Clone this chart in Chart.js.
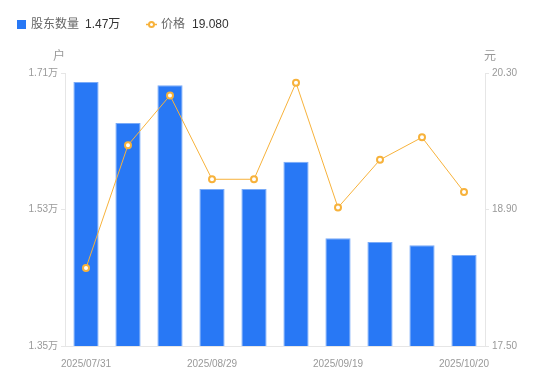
<!DOCTYPE html>
<html>
<head>
<meta charset="utf-8">
<script src="https://cdn.jsdelivr.net/npm/chart.js@4/dist/chart.umd.min.js"></script>
<style>
  html, body { margin: 0; padding: 0; background: #fff; }
  #wrap { width: 550px; height: 381px; position: relative; }
</style>
</head>
<body>
<div id="wrap"><canvas id="chart"></canvas></div>
<script>
// 日期（只显示部分刻度）
const dates = ['2025/07/31', '2025/08/10', '2025/08/20', '2025/08/29', '2025/09/05',
               '2025/09/10', '2025/09/19', '2025/09/30', '2025/10/10', '2025/10/20'];
// 股东数量（万户）
const holders = [1.698, 1.644, 1.694, 1.557, 1.557, 1.593, 1.492, 1.487, 1.483, 1.470];
// 价格（元）
const prices = [18.30, 19.56, 20.07, 19.21, 19.21, 20.20, 18.92, 19.41, 19.64, 19.08];

const holderTicks = [1.35, 1.53, 1.71];
const priceTicks = [17.50, 18.90, 20.30];

const BLUE = '#2878f5';
const ORANGE = '#f7b23b';
const FONT = '"Liberation Sans", "Noto Sans CJK SC", sans-serif';

// 图例和坐标轴单位
const extras = {
  id: 'extras',
  afterDraw(chart) {
    const ctx = chart.ctx;
    const area = chart.chartArea;
    ctx.save();
    ctx.textBaseline = 'middle';
    ctx.font = '12px ' + FONT;

    // 图例
    ctx.fillStyle = BLUE;
    ctx.fillRect(17, 20, 9, 9);
    ctx.fillStyle = '#666';
    ctx.fillText('股东数量', 31, 25);
    ctx.fillStyle = '#333';
    ctx.fillText(holders[holders.length - 1].toFixed(2) + '万', 85, 25);

    ctx.strokeStyle = ORANGE;
    ctx.lineWidth = 1.5;
    ctx.beginPath();
    ctx.moveTo(146, 24.5);
    ctx.lineTo(157, 24.5);
    ctx.stroke();
    ctx.fillStyle = '#fff';
    ctx.lineWidth = 2;
    ctx.beginPath();
    ctx.arc(151.5, 24.5, 2.5, 0, Math.PI * 2);
    ctx.fill();
    ctx.stroke();
    ctx.fillStyle = '#666';
    ctx.fillText('价格', 161, 25);
    ctx.fillStyle = '#333';
    ctx.fillText(prices[prices.length - 1].toFixed(3), 192, 25);

    // 单位
    ctx.fillStyle = '#999';
    ctx.textAlign = 'center';
    ctx.fillText('户', area.left - 6, 57);
    ctx.fillText('元', area.right + 5, 57);
    ctx.restore();
  }
};

new Chart(document.getElementById('chart'), {
  type: 'bar',
  data: {
    labels: dates,
    datasets: [
      {
        type: 'line',
        label: '价格',
        data: prices,
        yAxisID: 'y1',
        borderColor: ORANGE,
        borderWidth: 1,
        backgroundColor: '#fff',
        pointBorderColor: ORANGE,
        pointBackgroundColor: '#fff',
        pointBorderWidth: 2,
        pointRadius: 3,
        tension: 0,
        order: 0
      },
      {
        label: '股东数量',
        data: holders,
        yAxisID: 'y',
        backgroundColor: BLUE,
        borderColor: '#7aabf8',
        borderWidth: 1,
        categoryPercentage: 0.6,
        barPercentage: 1,
        order: 1
      }
    ]
  },
  options: {
    responsive: true,
    maintainAspectRatio: false,
    animation: false,
    layout: { padding: { top: 73, bottom: 0, left: 0, right: 0 } },
    plugins: {
      legend: { display: false },
      tooltip: { enabled: false }
    },
    scales: {
      x: {
        grid: { display: false },
        border: { color: '#e6e6e6' },
        ticks: {
          autoSkip: false,
          maxRotation: 0,
          color: '#999',
          font: { size: 10, family: FONT },
          padding: 4,
          callback: function(v, i) { return i % 3 === 0 ? dates[i] : ''; }
        },
        afterFit: function(s) { s.height = 35; }
      },
      y: {
        position: 'left',
        min: holderTicks[0],
        max: holderTicks[holderTicks.length - 1],
        afterBuildTicks: function(s) { s.ticks = holderTicks.map(v => ({ value: v })); },
        grid: { drawOnChartArea: false, tickLength: 4, color: '#e6e6e6' },
        border: { color: '#e6e6e6' },
        ticks: {
          color: '#999',
          font: { size: 10, family: FONT },
          padding: 3,
          callback: v => v.toFixed(2) + '万'
        },
        afterFit: function(s) { s.width = 65; }
      },
      y1: {
        position: 'right',
        min: priceTicks[0],
        max: priceTicks[priceTicks.length - 1],
        afterBuildTicks: function(s) { s.ticks = priceTicks.map(v => ({ value: v })); },
        grid: { drawOnChartArea: false, tickLength: 4, color: '#e6e6e6' },
        border: { color: '#e6e6e6' },
        ticks: {
          color: '#999',
          font: { size: 10, family: FONT },
          padding: 3,
          callback: v => v.toFixed(2)
        },
        afterFit: function(s) { s.width = 65; }
      }
    }
  },
  plugins: [extras]
});
</script>
</body>
</html>
